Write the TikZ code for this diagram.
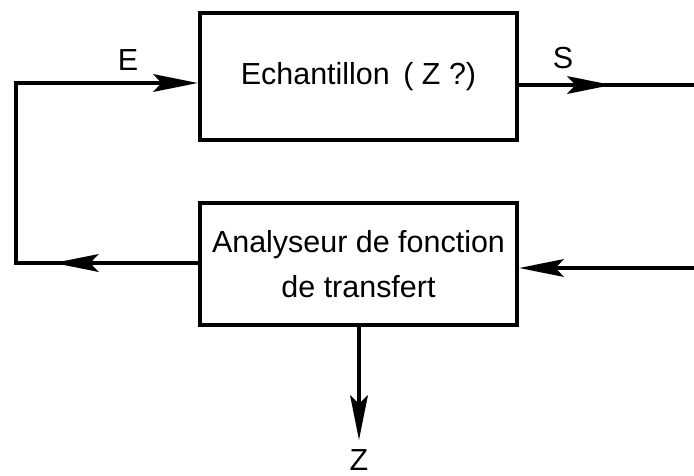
\documentclass[tikz,border=0pt]{standalone}
\usepackage{fontspec}
\setmainfont{Liberation Sans}
\usetikzlibrary{arrows.meta,decorations.markings}

\begin{document}
\begin{tikzpicture}[x=0.03cm,y=-0.03cm,
	line/.style={line width=3.6pt},
	box/.style={draw,line width=3.6pt,minimum width=9.51cm,align=center,inner sep=0pt,font=\fontsize{26}{38}\selectfont},
	lbl/.style={inner sep=0pt,font=\fontsize{26}{38}\selectfont},
	>={Stealth[length=38pt,width=15pt,inset=7pt]},
	midarrow/.style={decoration={markings,mark=at position #1 with {\arrow{>}}},postaction={decorate}}]
	\useasboundingbox (0,0) rectangle (694,476);

	\node[box,minimum height=3.81cm] (ech) at (358.5,76.5) {Echantillon \,( Z ?)};
	\node[box,minimum height=3.66cm] (ana) at (358.5,264) {Analyseur de fonction\\de transfert};

	\coordinate (cl) at (16,263);
	\coordinate (ct) at (16,83);
	\coordinate (sout) at (694,85);
	\coordinate (rin) at (694,268);
	\coordinate (zout) at (359,440);

	\node[lbl] (e) at (128,60) {E};
	\node[lbl] (s) at (563,58) {S};
	\node[lbl] (z) at (359,460) {Z};

	\draw[line,->,midarrow=0.265] (ana.west |- cl) -- (cl) -- (ct) -- (ech.west |- ct);
	\draw[line,midarrow=0.53] (ech.east |- sout) -- (sout);
	\draw[line,->] (rin) -- (ana.east |- rin);
	\draw[line,->] (ana.south -| zout) -- (zout);
\end{tikzpicture}
\end{document}
